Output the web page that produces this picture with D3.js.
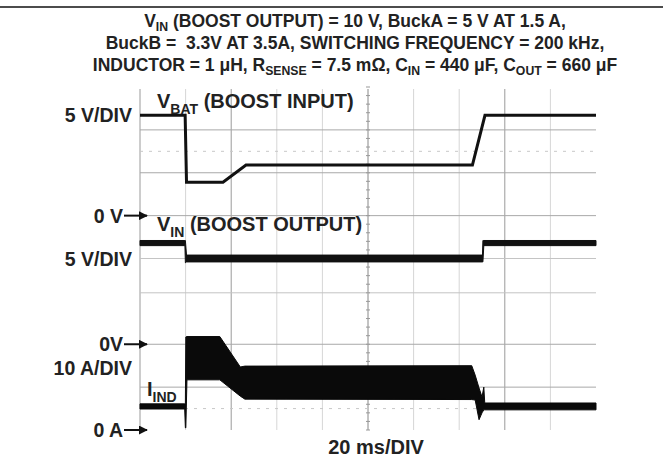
<!DOCTYPE html>
<html>
<head>
<meta charset="utf-8">
<script src="https://cdn.jsdelivr.net/npm/d3@7"></script>
<style>
  body { margin: 0; background: #fff; }
  text { font-family: "Liberation Sans", Arial, sans-serif; font-weight: bold; fill: #222; white-space: pre; }
</style>
</head>
<body>
<script>
const width = 663;
const height = 463;

// time base: 20 ms/DIV, 10 divisions
const timeDomain = [0, 200];
const timeDivs = [0, 20, 40, 60, 80, 100, 120, 140, 160, 180];
const darkTimeDivs = [0, 40, 160];

// screen grid in divisions (center = 0)
const hGridDivs = [3, 2, 1, 0, -0.8, -2, -3];
const hDashDivs = [2.5, -3.5];

// channel 1: V_BAT, 5 V/DIV, 0 V at +1 div
const vbatTime = [0, 19.8, 20.4, 36.4, 46.5, 145.8, 151.3, 200];
const vbatVolts = [11.7, 11.7, 3.9, 3.9, 5.9, 5.9, 11.7, 11.7];

// channel 2: V_IN, 5 V/DIV, 0 V at -2 div (noise band low/high)
const vinTime = [0, 19.7, 19.9, 20.4, 150.2, 150.4, 150.8, 200];
const vinLow = [11.5, 11.5, 9.5, 9.6, 9.6, 9.6, 11.5, 11.5];
const vinHigh = [12.1, 12.1, 12.1, 10.4, 10.4, 12.1, 12.1, 12.1];

// channel 3: I_IND, 10 A/DIV, 0 A at -4 div (noise band low/high)
const iindTime = [0, 19.6, 19.9, 20.1, 20.6, 35, 44, 46, 145.5, 147, 148.7, 150, 150.8, 151.2, 200];
const iindLow = [4.9, 4.9, 0.5, 0.5, 11.7, 11.7, 7.9, 7.2, 7.1, 7.0, 2.4, 4.0, 4.7, 4.7, 4.7];
const iindHigh = [6.1, 6.1, 6.1, 21.7, 21.8, 21.8, 14.7, 14.9, 15.0, 12.8, 9.8, 7.7, 10.0, 6.3, 6.3];

const svg = d3.select('body').append('svg')
  .attr('width', width)
  .attr('height', height);

const x = d3.scaleLinear().domain(timeDomain).range([140, 596]);
const yDiv = d3.scaleLinear().domain([-4, 4]).range([430, 87]);

// channel scales: value -> pixel
const ch = (zeroDiv, perDiv) => v => yDiv(zeroDiv + v / perDiv);
const yVbat = ch(1, 5);
const yVin = ch(-2, 5);
const yIind = ch(-4, 10);

// top rule
svg.append('line')
  .attr('x1', 0).attr('x2', width)
  .attr('y1', 7).attr('y2', 7)
  .attr('stroke', '#111').attr('stroke-width', 1.5);

// text with subscripts: parts = [[text, isSub], ...]
function richText(g, parts, size, subShift) {
  const t = g.append('text').style('font-size', size + 'px');
  let shift = 0;
  parts.forEach(p => {
    const span = t.append('tspan').text(p[0]);
    const target = p[1] ? size * (subShift || 0.3) : 0;
    if (target !== shift) span.attr('dy', target - shift);
    shift = target;
    if (p[1]) span.style('font-size', (size * 0.7) + 'px');
  });
  return t;
}

const titleLines = [
  [['V'], ['IN', 1], [' (BOOST OUTPUT) = 10 V, BuckA = 5 V AT 1.5 A,']],
  [['BuckB =  3.3V AT 3.5A, SWITCHING FREQUENCY = 200 kHz,']],
  [['INDUCTOR = 1 \u03bcH, R'], ['SENSE', 1], [' = 7.5 m\u03a9, C'], ['IN', 1], [' = 440 \u03bcF, C'], ['OUT', 1], [' = 660 \u03bcF']]
];
titleLines.forEach((parts, i) => {
  richText(svg, parts, 17.5, 0.2)
    .attr('x', 355)
    .attr('y', 27 + i * 22)
    .attr('text-anchor', 'middle');
});

// grid
const grid = svg.append('g');
grid.selectAll('line.v')
  .data(timeDivs)
  .enter().append('line')
  .attr('x1', d => x(d)).attr('x2', d => x(d))
  .attr('y1', 89).attr('y2', yDiv(-4))
  .attr('stroke', d => d === 100 ? '#888' : (darkTimeDivs.includes(d) ? '#9a9a9a' : '#d6d6d6'))
  .attr('stroke-width', 1);

grid.selectAll('line.h')
  .data(hGridDivs)
  .enter().append('line')
  .attr('x1', x(0)).attr('x2', x(200))
  .attr('y1', d => yDiv(d)).attr('y2', d => yDiv(d))
  .attr('stroke', d => (d === 0 || d === -0.8) ? '#c4c4c4' : '#a8a8a8')
  .attr('stroke-width', 1);

grid.selectAll('line.hd')
  .data(hDashDivs)
  .enter().append('line')
  .attr('x1', x(0)).attr('x2', x(200))
  .attr('y1', d => yDiv(d)).attr('y2', d => yDiv(d))
  .attr('stroke', '#c8c8c8')
  .attr('stroke-dasharray', '3,6')
  .attr('stroke-width', 1);

// minor ticks on the center vertical
grid.selectAll('line.tick')
  .data(d3.range(-4, 4.01, 0.2))
  .enter().append('line')
  .attr('x1', x(100) - 2).attr('x2', x(100) + 2)
  .attr('y1', d => yDiv(d)).attr('y2', d => yDiv(d))
  .attr('stroke', '#999');

// traces
const vbatLine = d3.line().x(d => x(d[0])).y(d => yVbat(d[1]));
svg.append('path')
  .datum(d3.zip(vbatTime, vbatVolts))
  .attr('d', vbatLine)
  .attr('fill', 'none')
  .attr('stroke', '#111')
  .attr('stroke-width', 3);

const vinArea = d3.area().x(d => x(d[0])).y0(d => yVin(d[1])).y1(d => yVin(d[2]));
svg.append('path')
  .datum(d3.zip(vinTime, vinLow, vinHigh))
  .attr('d', vinArea)
  .attr('fill', '#111')
  .attr('stroke', '#111')
  .attr('stroke-width', 1);

const iindArea = d3.area().x(d => x(d[0])).y0(d => yIind(d[1])).y1(d => yIind(d[2]));
svg.append('path')
  .datum(d3.zip(iindTime, iindLow, iindHigh))
  .attr('d', iindArea)
  .attr('fill', '#0a0a0a')
  .attr('stroke', '#0a0a0a')
  .attr('stroke-width', 1);

// labels
const labelSize = 19.5;
function label(txt, xx, yy, anchor) {
  return svg.append('text')
    .text(txt)
    .attr('x', xx).attr('y', yy)
    .attr('text-anchor', anchor || 'end')
    .style('font-size', labelSize + 'px');
}
label('5 V/DIV', 132, yVbat(11.7) + 7);
label('5 V/DIV', 132, yVin(10) + 7);
label('10 A/DIV', 132, yDiv(-2.55) + 7);

// zero markers with arrows
svg.append('defs').append('marker')
  .attr('id', 'arrow')
  .attr('viewBox', '0 0 10 10')
  .attr('refX', 9).attr('refY', 5)
  .attr('markerWidth', 9).attr('markerHeight', 9)
  .attr('markerUnits', 'userSpaceOnUse')
  .attr('orient', 'auto')
  .append('path').attr('d', 'M0,0 L10,5 L0,10 z').attr('fill', '#111');

const zeros = [['0 V', yVbat(0)], ['0V', yVin(0)], ['0 A', yIind(0)]];
zeros.forEach(z => {
  label(z[0], 123, z[1] + 7);
  svg.append('line')
    .attr('x1', 124).attr('x2', 147)
    .attr('y1', z[1]).attr('y2', z[1])
    .attr('stroke', '#111').attr('stroke-width', 2)
    .attr('marker-end', 'url(#arrow)');
});

richText(svg, [['V'], ['BAT', 1], [' (BOOST INPUT)']], 20)
  .attr('x', 157).attr('y', 108);
richText(svg, [['V'], ['IN', 1], [' (BOOST OUTPUT)']], 20)
  .attr('x', 157).attr('y', 231);
richText(svg, [['I'], ['IND', 1]], 20)
  .attr('x', 147).attr('y', 396);

svg.append('text')
  .text('20 ms/DIV')
  .attr('x', 376).attr('y', 454)
  .attr('text-anchor', 'middle')
  .style('font-size', '20px');
</script>
</body>
</html>
